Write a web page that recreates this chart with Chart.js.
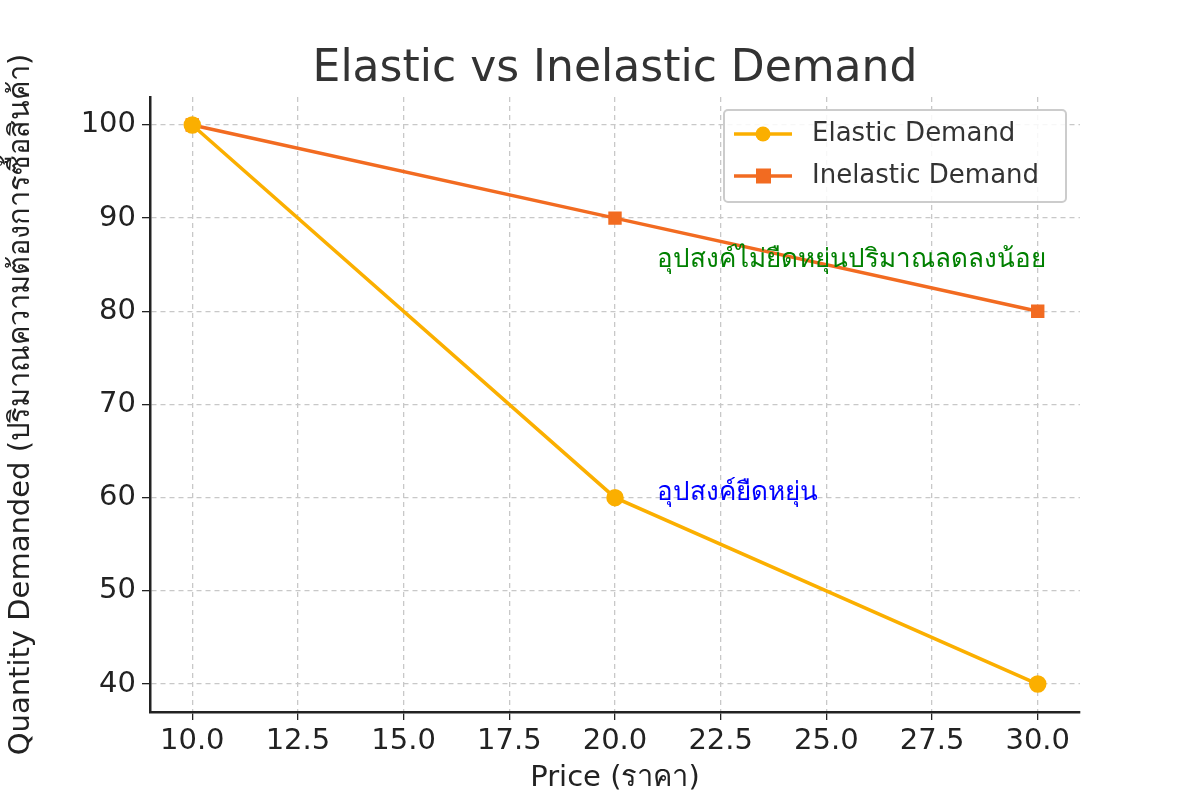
<!DOCTYPE html>
<html><head><meta charset="utf-8">
<script src="https://cdn.jsdelivr.net/npm/chart.js@4/dist/chart.umd.min.js"></script>
<style>html,body{margin:0;background:#fff}#w{width:1200px;height:800px}</style>
</head><body><div id="w"><canvas id="c"></canvas></div>
<script>
const prices = [10, 20, 30];
const elastic = [100, 60, 40];
const inelastic = [100, 90, 80];
const xTicks = [10, 12.5, 15, 17.5, 20, 22.5, 25, 27.5, 30];
const yTicks = [40, 50, 60, 70, 80, 90, 100];
const seriesNames = ["Elastic Demand", "Inelastic Demand"];
const titleText = "Elastic vs Inelastic Demand";
const xTitle = "Price (ราคา)";
const yTitle = "Quantity Demanded (ปริมาณความต้องการซื้อสินค้า)";
const notes = [
  {x: 21, y: 85.5, text: "อุปสงค์ไม่ยืดหยุ่นปริมาณลดลงน้อย", color: "#008000"},
  {x: 21, y: 60.5, text: "อุปสงค์ยืดหยุ่น", color: "#0000ff"}
];
const FONT = "'DejaVu Sans', sans-serif";
const cols = ["#FBAF00", "#F26B21"];

const extra = {
  id: 'extra',
  afterDraw(chart) {
    const ctx = chart.ctx, xs = chart.scales.x, ys = chart.scales.y, a = chart.chartArea;
    ctx.save();
    ctx.fillStyle = '#333'; ctx.font = '44px ' + FONT; ctx.textAlign = 'center'; ctx.textBaseline = 'alphabetic';
    ctx.fillText(titleText, (a.left + a.right) / 2, 81);
    ctx.textAlign = 'left'; ctx.textBaseline = 'middle'; ctx.font = '26px ' + FONT;
    notes.forEach(n => { ctx.fillStyle = n.color; ctx.fillText(n.text, xs.getPixelForValue(n.x), ys.getPixelForValue(n.y)); });
    const lx = 724, ly = 110, lw = 342, lh = 92;
    ctx.fillStyle = 'rgba(255,255,255,0.85)'; ctx.strokeStyle = '#ccc'; ctx.lineWidth = 2;
    ctx.beginPath(); ctx.roundRect(lx, ly, lw, lh, 4); ctx.fill(); ctx.stroke();
    ctx.font = '26px ' + FONT;
    seriesNames.forEach((s, i) => {
      const y = ly + 24 + i * 42;
      ctx.strokeStyle = cols[i]; ctx.lineWidth = 3.5;
      ctx.beginPath(); ctx.moveTo(734, y); ctx.lineTo(792, y); ctx.stroke();
      ctx.fillStyle = cols[i];
      if (i === 0) { ctx.beginPath(); ctx.arc(763, y, 7.5, 0, Math.PI * 2); ctx.fill(); }
      else ctx.fillRect(756, y - 7.5, 15, 15);
      ctx.fillStyle = '#333'; ctx.fillText(s, 812, y);
    });
    ctx.restore();
  }
};

const tickFont = {family: FONT, size: 29};
const gridOpt = {color: '#c8c8c8', tickColor: '#222', tickLength: 8, lineWidth: 1.3};
const borderOpt = {color: '#222', width: 2.5, dash: [5, 4]};
new Chart(document.getElementById('c'), {
  type: 'line',
  data: { datasets: [
    {label: seriesNames[0], data: prices.map((p, i) => ({x: p, y: elastic[i]})), borderColor: cols[0], backgroundColor: cols[0], borderWidth: 3.5, pointStyle: 'circle', pointRadius: 7, pointHoverRadius: 7},
    {label: seriesNames[1], data: prices.map((p, i) => ({x: p, y: inelastic[i]})), borderColor: cols[1], backgroundColor: cols[1], borderWidth: 3.5, pointStyle: 'rect', pointRadius: 7, pointHoverRadius: 7}
  ]},
  options: {
    responsive: true, maintainAspectRatio: false, animation: false,
    layout: {padding: {top: 97, right: 120, left: 0, bottom: 0}},
    plugins: {legend: {display: false}, title: {display: false}, tooltip: {enabled: false}},
    scales: {
      x: {type: 'linear', min: 9, max: 31,
        afterBuildTicks(s) { s.ticks = xTicks.map(v => ({value: v})); },
        afterFit(s) { s.height = 88; },
        ticks: {font: tickFont, color: '#222', padding: 4, callback: v => Number(v).toFixed(1), maxRotation: 0, autoSkip: false},
        grid: gridOpt, border: borderOpt,
        title: {display: true, text: xTitle, font: {family: FONT, size: 29}, color: '#222', padding: {top: 0}}
      },
      y: {min: 37, max: 103,
        afterBuildTicks(s) { s.ticks = yTicks.map(v => ({value: v})); },
        afterFit(s) { s.width = 150; },
        ticks: {font: tickFont, color: '#222', padding: 6, autoSkip: false},
        grid: gridOpt, border: borderOpt,
        title: {display: true, text: yTitle, font: {family: FONT, size: 29}, color: '#222', padding: {bottom: 6}}
      }
    }
  },
  plugins: [extra]
});
</script></body></html>
